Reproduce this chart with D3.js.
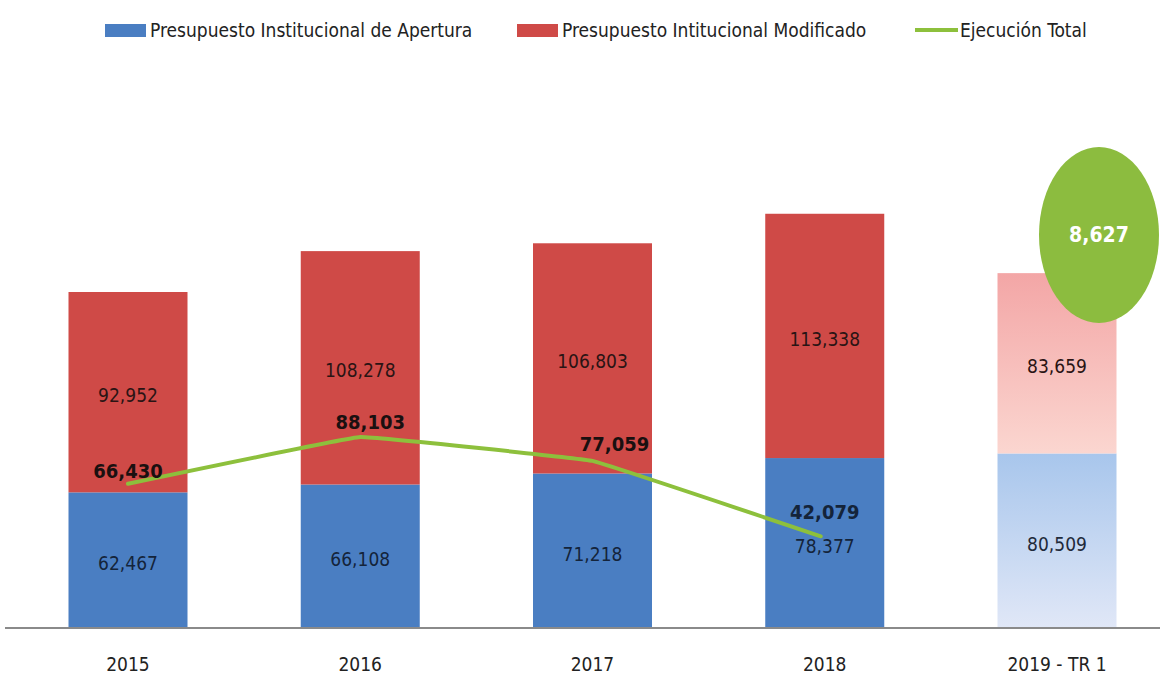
<!DOCTYPE html>
<html>
<head>
<meta charset="utf-8">
<script src="https://cdn.jsdelivr.net/npm/d3@7"></script>
<style>
  body { margin: 0; background: #fff; }
  text { font-family: "Liberation Sans Narrow", "DejaVu Sans Condensed", "Noto Sans", sans-serif; }
</style>
</head>
<body>
<div id="chart"></div>
<script>
// data
var years = ["2015", "2016", "2017", "2018", "2019 - TR 1"];
var apertura = [62467, 66108, 71218, 78377, 80509];
var modificado = [92952, 108278, 106803, 113338, 83659];
var ejecucion = [66430, 88103, 77059, 42079];
var ejecucion2019 = 8627;

var width = 1160, height = 677;
var baseY = 627;

var svg = d3.select("#chart").append("svg")
    .attr("width", width)
    .attr("height", height);

var defs = svg.append("defs");
var gRed = defs.append("linearGradient").attr("id", "fadeRed")
    .attr("x1", 0).attr("y1", 0).attr("x2", 0).attr("y2", 1);
gRed.append("stop").attr("offset", "0%").attr("stop-color", "#f3a6a6");
gRed.append("stop").attr("offset", "100%").attr("stop-color", "#fbd6d0");
var gBlue = defs.append("linearGradient").attr("id", "fadeBlue")
    .attr("x1", 0).attr("y1", 0).attr("x2", 0).attr("y2", 1);
gBlue.append("stop").attr("offset", "0%").attr("stop-color", "#a8c6ec");
gBlue.append("stop").attr("offset", "100%").attr("stop-color", "#e0e7f7");

// scales
var xScale = d3.scalePoint()
    .domain(years)
    .range([128, 1057]);

var yScale = d3.scaleLinear()
    .domain([0, 155419])
    .range([baseY, 292]);

var barW = 119;
var fmt = d3.format(",");

// bars
var bars = svg.append("g").selectAll("g")
    .data(years)
    .enter()
  .append("g");

bars.append("rect")
    .attr("x", function(d) { return xScale(d) - barW / 2; })
    .attr("width", barW)
    .attr("y", function(d, i) { return yScale(apertura[i]); })
    .attr("height", function(d, i) { return baseY - yScale(apertura[i]); })
    .attr("fill", function(d, i) { return i === 4 ? "url(#fadeBlue)" : "#4a7ec2"; });

bars.append("rect")
    .attr("x", function(d) { return xScale(d) - barW / 2; })
    .attr("width", barW)
    .attr("y", function(d, i) { return yScale(apertura[i] + modificado[i]); })
    .attr("height", function(d, i) { return yScale(apertura[i]) - yScale(apertura[i] + modificado[i]); })
    .attr("fill", function(d, i) { return i === 4 ? "url(#fadeRed)" : "#cf4a47"; });

// segment labels
bars.append("text")
    .attr("x", function(d) { return xScale(d); })
    .attr("y", function(d, i) { return (yScale(apertura[i]) + baseY) / 2 + 4; })
    .attr("dy", "0.35em")
    .attr("text-anchor", "middle")
    .attr("font-size", 19)
    .attr("fill", function(d, i) { return i === 4 ? "#1f2a3a" : "#14243a"; })
    .text(function(d, i) { return fmt(apertura[i]); });

bars.append("text")
    .attr("x", function(d) { return xScale(d); })
    .attr("y", function(d, i) { return (yScale(apertura[i]) + yScale(apertura[i] + modificado[i])) / 2 + 3; })
    .attr("dy", "0.35em")
    .attr("text-anchor", "middle")
    .attr("font-size", 19)
    .attr("fill", "#2a1414")
    .text(function(d, i) { return fmt(modificado[i]); });

// axis
svg.append("line")
    .attr("x1", 5).attr("x2", width)
    .attr("y1", baseY + 1).attr("y2", baseY + 1)
    .attr("stroke", "#8a8a8a")
    .attr("stroke-width", 2);

svg.append("g").selectAll("text")
    .data(years)
    .enter()
  .append("text")
    .attr("x", function(d) { return xScale(d); })
    .attr("y", 671)
    .attr("text-anchor", "middle")
    .attr("font-size", 19)
    .attr("fill", "#222")
    .text(function(d) { return d; });

// ejecucion line
var linePts = ejecucion.map(function(v, i) {
  var x = xScale(years[i]);
  if (i === 3) x = x - 4;
  return [x, yScale(v)];
});

svg.append("path")
    .datum(linePts)
    .attr("fill", "none")
    .attr("stroke", "#8dc03c")
    .attr("stroke-width", 4)
    .attr("stroke-linecap", "round")
    .attr("d", d3.line().curve(d3.curveCardinal.tension(0.85)));

var lblOff = [[0, -6], [10, -8], [22, -10], [0, -17]];
svg.append("g").selectAll("text")
    .data(ejecucion)
    .enter()
  .append("text")
    .attr("x", function(d, i) { return xScale(years[i]) + lblOff[i][0]; })
    .attr("y", function(d, i) { return yScale(d) + lblOff[i][1]; })
    .attr("text-anchor", "middle")
    .attr("font-size", 20)
    .attr("font-weight", "bold")
    .attr("fill", function(d, i) { return i === 3 ? "#14243a" : "#1a1010"; })
    .text(function(d) { return fmt(d); });

// 2019 bubble
svg.append("ellipse")
    .attr("cx", 1099).attr("cy", 235)
    .attr("rx", 60).attr("ry", 88)
    .attr("fill", "#8cbc3f");

svg.append("text")
    .attr("x", 1099).attr("y", 235)
    .attr("dy", "0.35em")
    .attr("text-anchor", "middle")
    .attr("font-size", 21)
    .attr("font-weight", "bold")
    .attr("fill", "#fff")
    .text(fmt(ejecucion2019));

// legend
var legendItems = [
  {label: "Presupuesto Institucional de Apertura", colour: "#4a7ec2", type: "rect", x: 105},
  {label: "Presupuesto Intitucional Modificado", colour: "#cf4a47", type: "rect", x: 517},
  {label: "Ejecución Total", colour: "#8dc03c", type: "line", x: 915}
];

var legend = svg.append("g").selectAll("g")
    .data(legendItems)
    .enter()
  .append("g");

legend.filter(function(d) { return d.type === "rect"; })
  .append("rect")
    .attr("x", function(d) { return d.x; })
    .attr("y", 24)
    .attr("width", 41)
    .attr("height", 13)
    .attr("fill", function(d) { return d.colour; });

legend.filter(function(d) { return d.type === "line"; })
  .append("line")
    .attr("x1", function(d) { return d.x; })
    .attr("x2", function(d) { return d.x + 43; })
    .attr("y1", 30).attr("y2", 30)
    .attr("stroke", function(d) { return d.colour; })
    .attr("stroke-width", 4);

legend.append("text")
    .attr("x", function(d) { return d.x + 45; })
    .attr("y", 37)
    .attr("font-size", 19)
    .attr("fill", "#222")
    .text(function(d) { return d.label; });
</script>
</body>
</html>
